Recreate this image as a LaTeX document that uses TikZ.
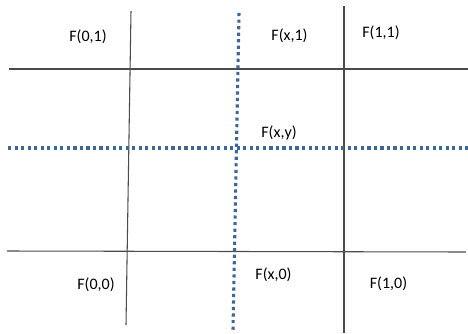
\documentclass[tikz,border=0pt]{standalone}
\usepackage{fontspec}
\setmainfont{Carlito}
\definecolor{gridgray}{RGB}{75,75,75}
\definecolor{dotblue}{RGB}{62,102,150}

\begin{document}
\begin{tikzpicture}[x=0.75pt,y=-0.75pt,
		gridline/.style={gridgray,line width=0.8pt},
		dotline/.style={dotblue,line width=2.3pt,dash pattern=on 2.4pt off 2.5pt},
		lbl/.style={font=\fontsize{12}{14}\selectfont,inner sep=0pt}]
					\useasboundingbox (0,0) rectangle (468,333);
					% grid
					\draw[gridline](9,69)--(468,69);
					\draw[gridline](7,251)--(466,252);
					\draw[gridline](131,11)--(126,325);
					\draw[gridline](344,6)--(344,333);
					% dotted cross through (x,y)
					\draw[dotline](8,148)--(468,148);
					\draw[dotline](239,13)--(233,330);
					% values
					\node[lbl] (f01) at (88,37) {F(0,1)};
					\node[lbl] (fx1) at (289.5,35.5) {F(x,1)};
					\node[lbl] (f11) at (381,32.5) {F(1,1)};
					\node[lbl] (fxy) at (279,133) {F(x,y)};
					\node[lbl] (f00) at (96,285) {F(0,0)};
					\node[lbl] (fx0) at (273.5,275) {F(x,0)};
					\node[lbl] (f10) at (388.5,284) {F(1,0)};
				\end{tikzpicture}
\end{document}
